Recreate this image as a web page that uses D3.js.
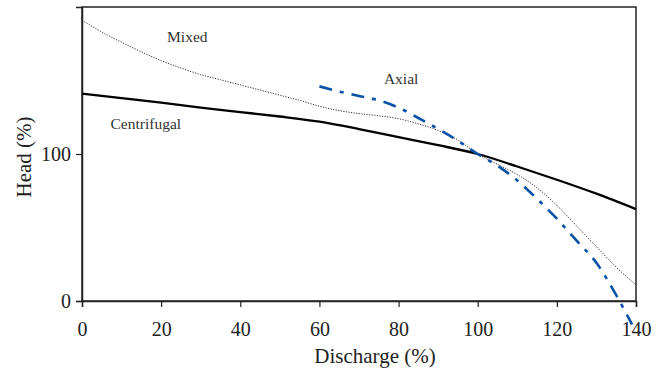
<!DOCTYPE html>
<html>
<head>
<meta charset="utf-8">
<script src="https://cdn.jsdelivr.net/npm/d3@7"></script>
<style>
  html, body { margin: 0; padding: 0; background: #fff; }
  svg { display: block; }
</style>
</head>
<body>
<svg id="chart" width="671" height="374"></svg>
<script>
// ---- data ----
const centrifugalX = [0, 10, 20, 30, 40, 50, 60, 70, 80, 90, 100, 110, 120, 130, 140];
const centrifugalY = [141, 138, 135, 131.5, 128.5, 125.5, 122, 117, 111.5, 106, 100, 91.5, 82.5, 73, 62.5];

const mixedX = [0, 5, 10, 15, 20, 25, 30, 35, 40, 45, 50, 55, 60, 65, 70, 75, 80, 85, 90, 95, 100, 105, 110, 115, 120, 125, 130, 135, 140];
const mixedY = [191, 183, 176, 169.5, 163.5, 158.5, 154, 150.5, 147, 143.5, 140, 136.5, 132.5, 129.5, 127.5, 126, 124, 120.5, 116, 109.5, 100, 93, 86, 77, 65, 51, 37, 23, 11];

const axialX = [60, 65, 70, 75, 80, 85, 90, 95, 100, 105, 110, 115, 120, 125, 130, 135, 139];
const axialY = [146, 142.5, 139.5, 136.5, 131.5, 124.5, 117, 109, 100, 92, 82, 69.5, 56, 41, 26, 4, -16];

const xTicks = [0, 20, 40, 60, 80, 100, 120, 140];
const yTicks = [0, 100];
const xTitle = "Discharge (%)";
const yTitle = "Head (%)";
const seriesLabels = [
  { name: "Mixed", x: 21.5, y: 176 },
  { name: "Centrifugal", x: 7.2, y: 117 },
  { name: "Axial", x: 76.3, y: 147.5 }
];

// ---- layout ----
const FONT = '"Liberation Serif", "Times New Roman", Times, "DejaVu Serif", serif';
const svg = d3.select("#chart");
const mLeft = 82, mRight = 636, mTop = 7, mBottom = 301;

const x = d3.scaleLinear().domain([0, 140]).range([mLeft, mRight]);
const y = d3.scaleLinear().domain([0, 200]).range([mBottom, mTop]);

// frame
svg.append("rect")
  .attr("x", mLeft).attr("y", mTop)
  .attr("width", mRight - mLeft).attr("height", mBottom - mTop)
  .attr("fill", "none").attr("stroke", "#222").attr("stroke-width", 1.5);

// axes
const xAxis = svg.append("g")
  .attr("transform", `translate(0,${mBottom})`)
  .call(d3.axisBottom(x).tickValues(xTicks).tickSize(6).tickPadding(15).tickFormat(d3.format("d")));
const yAxis = svg.append("g")
  .attr("transform", `translate(${mLeft},0)`)
  .call(d3.axisLeft(y).tickValues(yTicks).tickSize(6).tickPadding(5).tickFormat(d3.format("d")));

[xAxis, yAxis].forEach(g => {
  g.attr("font-family", FONT).attr("font-size", 20);
  g.select(".domain").attr("stroke", "#222").attr("stroke-width", 1.5);
  g.selectAll(".tick line").attr("stroke", "#222").attr("stroke-width", 1.2);
  g.selectAll(".tick text").attr("fill", "#222");
});

// axis titles
svg.append("text")
  .attr("x", 375).attr("y", 363)
  .attr("text-anchor", "middle")
  .attr("font-family", FONT)
  .attr("font-size", 21)
  .attr("fill", "#222")
  .text(xTitle);
svg.append("text")
  .attr("transform", `translate(31,157) rotate(-90)`)
  .attr("text-anchor", "middle")
  .attr("font-family", FONT)
  .attr("font-size", 21)
  .attr("fill", "#222")
  .text(yTitle);

// lines
const line = d3.line().x(d => x(d[0])).y(d => y(d[1])).curve(d3.curveMonotoneX);

svg.append("path")
  .datum(mixedX.map((v, i) => [v, mixedY[i]]))
  .attr("d", line)
  .attr("fill", "none")
  .attr("stroke", "#333")
  .attr("stroke-width", 1)
  .attr("stroke-dasharray", "1.2,1.4");

svg.append("path")
  .datum(centrifugalX.map((v, i) => [v, centrifugalY[i]]))
  .attr("d", line)
  .attr("fill", "none")
  .attr("stroke", "#000")
  .attr("stroke-width", 2.3);

svg.append("path")
  .datum(axialX.map((v, i) => [v, axialY[i]]))
  .attr("d", line)
  .attr("fill", "none")
  .attr("stroke", "#0a52a8")
  .attr("stroke-width", 2.6)
  .attr("stroke-dasharray", "13,8,4,8");

// series labels
svg.selectAll("text.series")
  .data(seriesLabels)
  .enter().append("text")
  .attr("class", "series")
  .attr("x", d => x(d.x))
  .attr("y", d => y(d.y))
  .attr("fill", "#333")
  .attr("font-family", FONT)
  .attr("font-size", 15.5)
  .text(d => d.name);
</script>
</body>
</html>
